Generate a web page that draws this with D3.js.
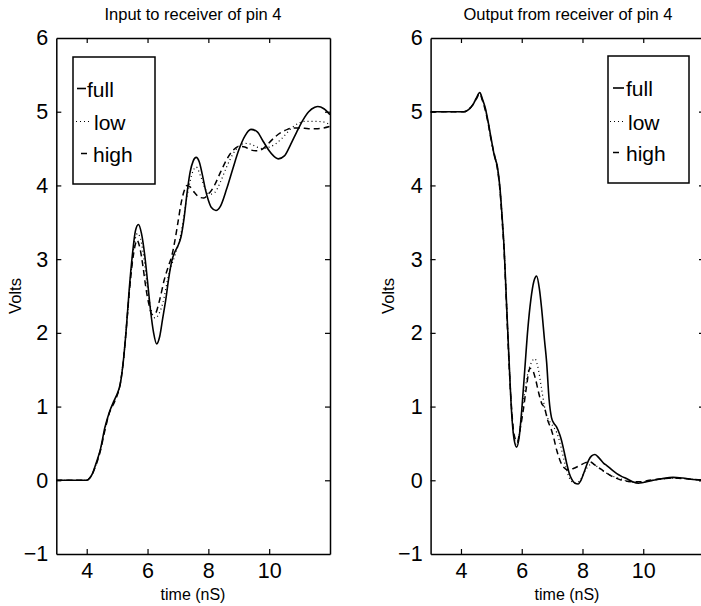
<!DOCTYPE html>
<html><head><meta charset="utf-8">
<script src="https://cdn.jsdelivr.net/npm/d3@7"></script>
<style>
html,body{margin:0;padding:0;background:#fff;}
svg{display:block;font-family:"Liberation Sans",Arial,Helvetica,sans-serif;}
</style></head>
<body><svg id="c" width="701" height="606"></svg>
<script>
// ---- data ----
const titles = ["Input to receiver of pin 4", "Output from receiver of pin 4"];
const seriesNames = ["full", "low", "high"];
const xTicks = [4, 6, 8, 10];
const yTicks = [-1, 0, 1, 2, 3, 4, 5, 6];
const yTickLabels = ["\u22121", "0", "1", "2", "3", "4", "5", "6"];

// Input to receiver (left)
const inFullX = [3,4.0,4.1,4.2,4.3,4.45,4.6,4.75,4.9,5.0,5.1,5.2,5.3,5.4,5.5,5.6,5.7,5.8,5.9,6.0,6.1,6.2,6.3,6.4,6.5,6.6,6.7,6.8,6.9,7.0,7.1,7.2,7.3,7.4,7.5,7.6,7.7,7.8,7.9,8.0,8.1,8.25,8.4,8.6,8.8,9.0,9.2,9.4,9.6,9.8,10.0,10.2,10.3,10.5,10.7,10.9,11.1,11.3,11.5,11.6,11.8,12];
const inFullY = [0,0,0.03,0.1,0.22,0.42,0.72,0.93,1.08,1.17,1.3,1.6,2.05,2.6,3.05,3.38,3.47,3.35,3.08,2.7,2.3,2.0,1.85,1.95,2.2,2.45,2.75,2.98,3.1,3.18,3.3,3.55,3.9,4.18,4.33,4.38,4.32,4.15,3.95,3.8,3.7,3.66,3.72,3.95,4.22,4.48,4.67,4.76,4.73,4.6,4.47,4.38,4.36,4.4,4.55,4.72,4.88,5.0,5.06,5.07,5.04,4.96];
const inLowX = [3,4.0,4.1,4.2,4.3,4.45,4.6,4.75,4.9,5.0,5.1,5.2,5.3,5.4,5.5,5.6,5.67,5.8,5.9,6.0,6.1,6.25,6.4,6.5,6.7,6.9,7.1,7.3,7.5,7.6,7.75,7.9,8.05,8.2,8.4,8.6,8.8,9.0,9.2,9.4,9.6,9.8,10.0,10.2,10.4,10.6,10.8,11.0,11.2,11.5,11.8,12];
const inLowY = [0,0,0.03,0.1,0.21,0.41,0.7,0.92,1.07,1.16,1.3,1.6,2.05,2.55,3.0,3.28,3.35,3.22,2.95,2.6,2.35,2.2,2.28,2.4,2.8,3.05,3.35,3.85,4.2,4.25,4.12,3.95,3.88,3.9,4.05,4.25,4.42,4.53,4.57,4.56,4.52,4.5,4.52,4.56,4.63,4.72,4.8,4.85,4.87,4.87,4.86,4.82];
const inHighX = [3,4.0,4.1,4.2,4.3,4.45,4.6,4.75,4.9,5.0,5.1,5.2,5.3,5.4,5.5,5.6,5.65,5.75,5.85,5.95,6.05,6.15,6.25,6.4,6.55,6.7,6.8,6.9,7.0,7.1,7.2,7.3,7.4,7.55,7.7,7.85,8.0,8.2,8.4,8.6,8.8,9.0,9.2,9.4,9.6,9.8,10.0,10.2,10.4,10.6,10.8,11.0,11.3,11.6,12];
const inHighY = [0,0,0.03,0.1,0.2,0.4,0.68,0.92,1.05,1.15,1.3,1.6,2.05,2.55,2.95,3.2,3.26,3.15,2.9,2.6,2.38,2.25,2.26,2.45,2.72,2.92,3.05,3.25,3.5,3.75,3.92,4.0,3.98,3.9,3.84,3.83,3.88,4.0,4.18,4.35,4.47,4.53,4.52,4.48,4.47,4.5,4.58,4.66,4.72,4.76,4.78,4.78,4.77,4.77,4.8];

// Output from receiver (right)
const outFullX = [3,4.1,4.25,4.4,4.5,4.62,4.7,4.8,4.9,5.0,5.1,5.2,5.28,5.35,5.42,5.5,5.58,5.67,5.75,5.83,5.92,6.0,6.1,6.2,6.3,6.4,6.49,6.58,6.65,6.75,6.82,6.9,6.98,7.05,7.15,7.25,7.31,7.4,7.48,7.56,7.64,7.75,7.86,7.95,8.08,8.2,8.3,8.41,8.55,8.7,8.8,9.0,9.13,9.3,9.46,9.65,9.84,10.0,10.33,10.6,10.98,11.3,11.64,12];
const outFullY = [5,5,5.03,5.1,5.18,5.26,5.18,5.05,4.85,4.62,4.4,4.25,3.98,3.6,3.15,2.4,1.65,0.9,0.55,0.45,0.6,0.95,1.5,2.05,2.45,2.7,2.77,2.6,2.35,1.9,1.6,1.1,0.85,0.78,0.72,0.62,0.54,0.38,0.23,0.1,0.02,-0.04,-0.05,0.0,0.14,0.27,0.33,0.35,0.3,0.23,0.2,0.13,0.09,0.05,0.02,-0.02,-0.04,-0.03,0.0,0.02,0.04,0.03,0.01,0];
const outLowX = [3,4.1,4.25,4.4,4.5,4.62,4.7,4.8,4.9,5.0,5.1,5.2,5.28,5.35,5.42,5.5,5.58,5.67,5.75,5.83,5.92,6.0,6.1,6.2,6.3,6.43,6.55,6.65,6.75,6.85,6.95,7.05,7.15,7.25,7.35,7.45,7.55,7.65,7.8,7.95,8.1,8.25,8.35,8.5,8.7,8.9,9.1,9.4,9.7,9.9,10.3,10.7,11.0,11.4,12];
const outLowY = [5,5,5.03,5.1,5.18,5.25,5.17,5.04,4.84,4.6,4.4,4.24,3.97,3.6,3.15,2.4,1.65,0.92,0.58,0.48,0.62,0.9,1.2,1.45,1.58,1.65,1.5,1.25,1.0,0.85,0.78,0.72,0.65,0.52,0.35,0.18,0.05,-0.02,-0.04,0.02,0.14,0.21,0.22,0.18,0.12,0.07,0.04,0.0,-0.03,-0.03,0.0,0.02,0.03,0.02,0];
const outHighX = [3,4.1,4.25,4.4,4.5,4.62,4.7,4.8,4.9,5.0,5.1,5.2,5.28,5.35,5.42,5.5,5.58,5.67,5.75,5.85,5.95,6.05,6.15,6.27,6.35,6.45,6.55,6.65,6.75,6.85,6.98,7.05,7.15,7.25,7.37,7.53,7.7,7.91,8.1,8.24,8.4,8.57,8.75,8.9,9.1,9.3,9.67,9.9,10.2,10.6,11.0,11.4,12];
const outHighY = [5,5,5.03,5.1,5.17,5.24,5.16,5.02,4.83,4.6,4.42,4.22,3.95,3.55,3.1,2.35,1.6,0.95,0.62,0.52,0.7,0.95,1.25,1.52,1.5,1.38,1.2,1.05,0.98,0.82,0.68,0.58,0.41,0.28,0.18,0.14,0.16,0.2,0.24,0.25,0.21,0.16,0.11,0.07,0.03,0.0,-0.02,-0.02,0.0,0.02,0.03,0.02,0];

// ---- drawing ----
const svg = d3.select("#c");
const styles = {
  full: {width: 1.6, dash: null},
  low:  {width: 1.2, dash: "1,3"},
  high: {width: 1.5, dash: "6,4"}
};

const panels = [
  {title: titles[0], left: 56.3, right: 330, titleX: 193, labelX: 193,
   series: [["full", inFullX, inFullY], ["low", inLowX, inLowY], ["high", inHighX, inHighY]],
   legend: {x0: 73, y0: 57, x1: 155, y1: 184,
     rows: [{y: 88.5, lx0: 77, lx1: 86, tx: 87}, {y: 121.5, lx0: 76, lx1: 92, tx: 94}, {y: 153.5, lx0: 81, lx1: 87, tx: 93}]},
   voltsX: 15},
  {title: titles[1], left: 430.6, right: 704, titleX: 568, labelX: 567,
   series: [["full", outFullX, outFullY], ["low", outLowX, outLowY], ["high", outHighX, outHighY]],
   legend: {x0: 608, y0: 56, x1: 689, y1: 183,
     rows: [{y: 88, lx0: 613, lx1: 624, tx: 626}, {y: 121.5, lx0: 610, lx1: 625, tx: 628}, {y: 152.5, lx0: 613, lx1: 619, tx: 626}]},
   voltsX: 388}
];

const plotTop = 38, plotBottom = 554;

panels.forEach((p, pi) => {
  const x = d3.scaleLinear().domain([3, 12]).range([p.left, p.right]);
  const y = d3.scaleLinear().domain([-1, 6]).range([plotBottom, plotTop]);
  const g = svg.append("g");
  const clipId = "clip" + pi;
  svg.append("clipPath").attr("id", clipId).append("rect")
    .attr("x", p.left).attr("y", plotTop).attr("width", p.right - p.left).attr("height", plotBottom - plotTop);

  const line = d3.line().x(d => x(d[0])).y(d => y(d[1])).curve(d3.curveMonotoneX);
  p.series.forEach(([name, xs, ys]) => {
    const pts = xs.map((v, i) => [v, ys[i]]);
    const st = styles[name];
    g.append("path").attr("d", line(pts)).attr("fill", "none")
      .attr("stroke", "#000").attr("stroke-width", st.width)
      .attr("stroke-dasharray", st.dash)
      .attr("stroke-linejoin", "round")
      .attr("clip-path", `url(#${clipId})`);
  });

  const tl = 5;
  const axB = d3.axisBottom(x).tickValues(xTicks).tickSizeInner(-tl).tickSizeOuter(0).tickPadding(9);
  const axT = d3.axisTop(x).tickValues(xTicks).tickSizeInner(-tl).tickSizeOuter(0).tickFormat("");
  const axL = d3.axisLeft(y).tickValues(yTicks).tickSizeInner(-tl).tickSizeOuter(0).tickPadding(8)
    .tickFormat((d, i) => yTickLabels[i]);
  const axR = d3.axisRight(y).tickValues(yTicks).tickSizeInner(-tl).tickSizeOuter(0).tickFormat("");

  const gb = g.append("g").attr("transform", `translate(0,${plotBottom})`).call(axB);
  const gt = g.append("g").attr("transform", `translate(0,${plotTop})`).call(axT);
  const gl = g.append("g").attr("transform", `translate(${p.left},0)`).call(axL);
  const gr = g.append("g").attr("transform", `translate(${p.right},0)`).call(axR);
  [gb, gt, gl, gr].forEach(a => {
    a.select(".domain").attr("stroke", "#000").attr("stroke-width", 1.5);
    a.selectAll(".tick line").attr("stroke", "#000").attr("stroke-width", 1.2);
    a.selectAll("text").attr("font-family", "Liberation Sans, Arial, sans-serif")
      .attr("font-size", 21.5).attr("fill", "#000");
  });
  gl.selectAll(".tick line").filter(d => d === -1 || d === 6).remove();
  gr.selectAll(".tick line").filter(d => d === -1 || d === 6).remove();

  svg.append("text").attr("x", p.titleX).attr("y", 20).attr("text-anchor", "middle")
    .attr("font-size", 16.5).text(p.title);
  svg.append("text").attr("x", p.labelX).attr("y", 600).attr("text-anchor", "middle")
    .attr("font-size", 16).text("time (nS)");
  svg.append("text").attr("transform", `translate(${p.voltsX + 6},${(plotTop + plotBottom) / 2}) rotate(-90)`)
    .attr("text-anchor", "middle").attr("font-size", 16.5).text("Volts");

  const L = p.legend;
  svg.append("rect").attr("x", L.x0).attr("y", L.y0).attr("width", L.x1 - L.x0).attr("height", L.y1 - L.y0)
    .attr("fill", "#fff").attr("stroke", "#000").attr("stroke-width", 1.5);
  seriesNames.forEach((n, i) => {
    const r = L.rows[i];
    const st = styles[n];
    svg.append("line").attr("x1", r.lx0).attr("x2", r.lx1).attr("y1", r.y).attr("y2", r.y)
      .attr("stroke", "#000").attr("stroke-width", st.width).attr("stroke-dasharray", st.dash);
    svg.append("text").attr("x", r.tx).attr("y", r.y + 8).attr("font-size", 21).text(n);
  });
});
</script>
</body></html>
